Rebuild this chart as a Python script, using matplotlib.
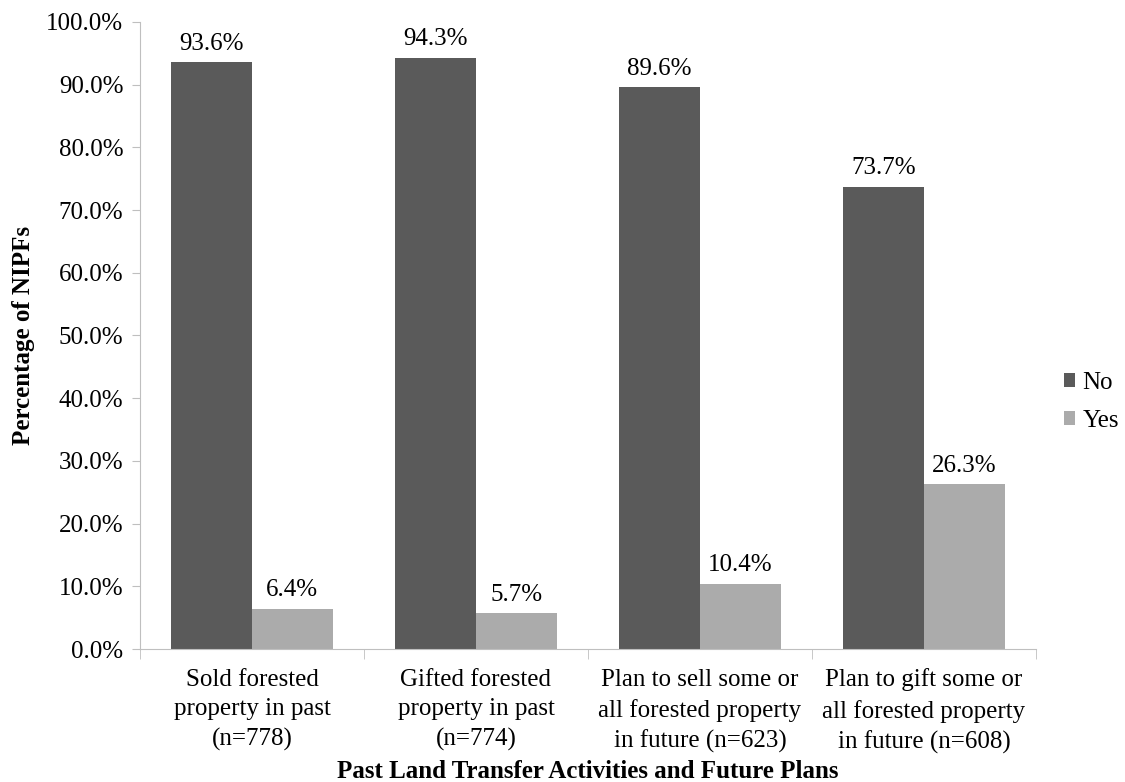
import matplotlib.pyplot as plt
import numpy as np

categories = ['Sold forested\nproperty in past\n(n=778)',
              'Gifted forested\nproperty in past\n(n=774)',
              'Plan to sell some or\nall forested property\nin future (n=623)',
              'Plan to gift some or\nall forested property\nin future (n=608)']
no_vals = [93.6, 94.3, 89.6, 73.7]
yes_vals = [6.4, 5.7, 10.4, 26.3]

plt.rcParams['font.family'] = ['Liberation Serif', 'DejaVu Serif']
ftsz = 18

fig = plt.figure(figsize=(11.25, 7.82), dpi=100)
ax = fig.add_axes([0.1244, 0.170, 0.7965, 0.802])

x = np.arange(len(categories))
w = 0.36
b_no = ax.bar(x - w/2, no_vals, w, color='#5a5a5a', label='No')
b_yes = ax.bar(x + w/2, yes_vals, w, color='#ababab', label='Yes')

for bars, vals in ((b_no, no_vals), (b_yes, yes_vals)):
    for rect, v in zip(bars, vals):
        ax.text(rect.get_x() + rect.get_width()/2, v + 1.2, '%.1f%%' % v,
                ha='center', va='bottom', fontsize=ftsz)

ax.set_xlim(-0.5, len(categories) - 0.5)
ax.set_ylim(0, 100)
ax.set_yticks(np.arange(0, 101, 10))
ax.set_yticklabels(['%.1f%%' % t for t in np.arange(0, 101, 10)], fontsize=ftsz)

# category labels centred, tick marks on category boundaries
ax.set_xticks(x)
ax.set_xticklabels(categories, fontsize=ftsz, linespacing=1.45)
ax.tick_params(axis='x', length=0, pad=14)
ax.set_xticks(np.arange(-0.5, len(categories)), minor=True)
ax.tick_params(axis='x', which='minor', length=7, color='#bfbfbf')
ax.tick_params(axis='y', length=6, color='#bfbfbf', pad=6)

for s in ['top', 'right']:
    ax.spines[s].set_visible(False)
ax.spines['left'].set_color('#bfbfbf')
ax.spines['bottom'].set_color('#bfbfbf')

ax.set_ylabel('Percentage of NIPFs', fontsize=ftsz, fontweight='bold', labelpad=8)
ax.set_xlabel('Past Land Transfer Activities and Future Plans', fontsize=ftsz,
              fontweight='bold', labelpad=4)

ax.legend(loc='center left', bbox_to_anchor=(1.006, 0.394), frameon=False,
          fontsize=ftsz, handlelength=0.45, handleheight=0.45, labelspacing=0.65,
          handletextpad=0.3)

plt.savefig('out.png', dpi=100)
